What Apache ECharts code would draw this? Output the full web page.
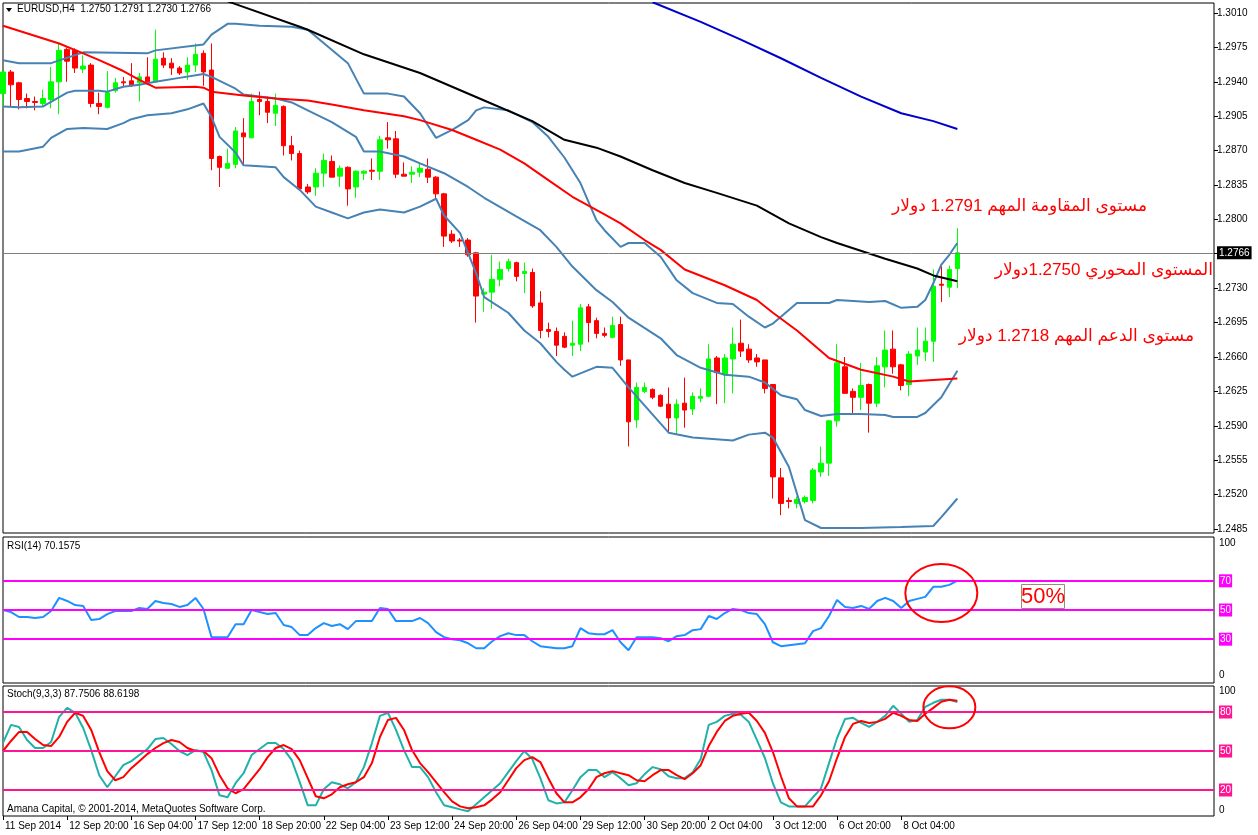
<!DOCTYPE html>
<html><head><meta charset="utf-8">
<script src="https://cdn.jsdelivr.net/npm/echarts@6/dist/echarts.min.js"></script>
<style>html,body{margin:0;padding:0;background:#fff}#c{width:1258px;height:835px}</style>
</head><body><div id="c"></div>
<script>
const xTickLabels = ["11 Sep 2014","12 Sep 20:00","16 Sep 04:00","17 Sep 12:00","18 Sep 20:00","22 Sep 04:00","23 Sep 12:00","24 Sep 20:00","26 Sep 04:00","29 Sep 12:00","30 Sep 20:00","2 Oct 04:00","3 Oct 12:00","6 Oct 20:00","8 Oct 04:00"];
const priceTicks = [1.3010,1.2975,1.2940,1.2905,1.2870,1.2835,1.2800,1.2730,1.2695,1.2660,1.2625,1.2590,1.2555,1.2520,1.2485];
const lastPrice = 1.2766;
// [open, close, low, high]
const candles = [
[1.2928,1.2950,1.2915,1.2951],[1.2950,1.2937,1.2915,1.2952],[1.2939,1.2922,1.2912,1.2940],[1.2923,1.2920,1.2913,1.2928],
[1.2920,1.2919,1.2911,1.2925],[1.2918,1.2923,1.2915,1.2932],[1.2922,1.2940,1.2913,1.2955],[1.2940,1.2972,1.2907,1.2979],
[1.2973,1.2961,1.2940,1.2975],[1.2972,1.2954,1.2949,1.2974],[1.2953,1.2956,1.2949,1.2967],[1.2957,1.2918,1.2914,1.2959],
[1.2918,1.2915,1.2907,1.2929],[1.2914,1.2929,1.2913,1.2951],[1.2931,1.2939,1.2929,1.2944],[1.2940,1.2939,1.2935,1.2945],
[1.2941,1.2937,1.2935,1.2959],[1.2939,1.2945,1.2920,1.2949],[1.2945,1.2940,1.2937,1.2965],[1.2940,1.2963,1.2939,1.2993],
[1.2964,1.2957,1.2954,1.2970],[1.2959,1.2954,1.2947,1.2964],[1.2954,1.2949,1.2947,1.2956],[1.2950,1.2957,1.2942,1.2965],
[1.2957,1.2968,1.2950,1.2979],[1.2969,1.2950,1.2936,1.2972],[1.2952,1.2862,1.2850,1.2979],[1.2864,1.2853,1.2833,1.2865],
[1.2852,1.2857,1.2852,1.2872],[1.2856,1.2890,1.2852,1.2894],[1.2888,1.2884,1.2856,1.2903],[1.2883,1.2920,1.2883,1.2928],
[1.2922,1.2920,1.2906,1.2930],[1.2920,1.2909,1.2898,1.2925],[1.2908,1.2916,1.2895,1.2928],[1.2915,1.2875,1.2865,1.2916],
[1.2875,1.2867,1.2860,1.2885],[1.2867,1.2831,1.2829,1.2870],[1.2833,1.2828,1.2826,1.2836],[1.2833,1.2847,1.2824,1.2852],
[1.2847,1.2860,1.2833,1.2867],[1.2859,1.2843,1.2843,1.2865],[1.2844,1.2852,1.2833,1.2855],[1.2853,1.2831,1.2814,1.2854],
[1.2833,1.2849,1.2822,1.2850],[1.2847,1.2849,1.2840,1.2850],[1.2850,1.2849,1.2840,1.2862],[1.2849,1.2881,1.2840,1.2885],
[1.2883,1.2881,1.2872,1.2899],[1.2882,1.2846,1.2842,1.2890],[1.2846,1.2844,1.2844,1.2858],[1.2846,1.2848,1.2837,1.2854],
[1.2848,1.2852,1.2843,1.2858],[1.2851,1.2843,1.2837,1.2862],[1.2843,1.2826,1.2821,1.2844],[1.2826,1.2783,1.2772,1.2827],
[1.2785,1.2778,1.2776,1.2789],[1.2779,1.2778,1.2772,1.2781],[1.2779,1.2764,1.2762,1.2781],[1.2766,1.2722,1.2695,1.2767],
[1.2724,1.2726,1.2706,1.2730],[1.2726,1.2739,1.2709,1.2764],[1.2739,1.2749,1.2732,1.2757],[1.2750,1.2757,1.2747,1.2760],
[1.2756,1.2742,1.2737,1.2757],[1.2745,1.2747,1.2725,1.2756],[1.2746,1.2712,1.2710,1.2750],[1.2715,1.2687,1.2679,1.2727],
[1.2688,1.2686,1.2680,1.2695],[1.2686,1.2672,1.2661,1.2690],[1.2681,1.2670,1.2669,1.2685],[1.2672,1.2674,1.2661,1.2697],
[1.2673,1.2710,1.2666,1.2714],[1.2711,1.2695,1.2675,1.2714],[1.2697,1.2684,1.2679,1.2700],[1.2684,1.2682,1.2680,1.2690],
[1.2680,1.2692,1.2679,1.2701],[1.2693,1.2657,1.2651,1.2701],[1.2657,1.2594,1.2569,1.2657],[1.2596,1.2629,1.2588,1.2634],
[1.2625,1.2629,1.2623,1.2634],[1.2627,1.2619,1.2617,1.2628],[1.2621,1.2610,1.2609,1.2622],[1.2612,1.2598,1.2583,1.2629],
[1.2598,1.2612,1.2581,1.2617],[1.2613,1.2606,1.2588,1.2639],[1.2607,1.2620,1.2601,1.2624],[1.2618,1.2620,1.2614,1.2628],
[1.2620,1.2658,1.2619,1.2673],[1.2659,1.2644,1.2612,1.2661],[1.2642,1.2659,1.2613,1.2663],[1.2658,1.2673,1.2623,1.2690],
[1.2674,1.2666,1.2660,1.2698],[1.2668,1.2657,1.2654,1.2673],[1.2659,1.2655,1.2650,1.2663],[1.2657,1.2628,1.2623,1.2657],
[1.2632,1.2538,1.2516,1.2632],[1.2537,1.2511,1.2499,1.2547],[1.2514,1.2513,1.2506,1.2517],[1.2511,1.2515,1.2506,1.2518],
[1.2513,1.2517,1.2511,1.2519],[1.2514,1.2545,1.2511,1.2547],[1.2543,1.2552,1.2538,1.2569],[1.2552,1.2595,1.2539,1.2596],
[1.2595,1.2654,1.2589,1.2673],[1.2650,1.2623,1.2623,1.2660],[1.2625,1.2619,1.2603,1.2628],[1.2619,1.2631,1.2606,1.2654],
[1.2632,1.2613,1.2583,1.2633],[1.2613,1.2651,1.2609,1.2660],[1.2650,1.2667,1.2629,1.2687],[1.2668,1.2650,1.2643,1.2687],
[1.2652,1.2631,1.2626,1.2653],[1.2632,1.2663,1.2620,1.2666],[1.2661,1.2667,1.2652,1.2690],[1.2665,1.2676,1.2656,1.2690],
[1.2676,1.2732,1.2655,1.2749],[1.2734,1.2733,1.2716,1.2752],[1.2731,1.2749,1.2721,1.2753],[1.2750,1.2766,1.2730,1.2791]
];
// [bar index, value]
const bbUpper = [[0,1.2962],[2,1.2959],[6,1.2959],[10,1.2970],[18,1.2969],[19,1.2972],[25,1.2978],[26,1.2988],[28,1.2999],[29,1.2999],[32,1.2997],[36,1.2996],[38,1.2993],[43,1.2959],[45,1.2928],[48,1.2928],[50,1.2925],[52,1.2908],[54,1.2883],[56,1.2891],[58,1.2901],[59,1.2911],[60,1.2914],[63,1.2911],[66,1.2899],[68,1.2884],[70,1.2863],[72,1.2837],[74,1.2799],[75,1.2789],[77,1.2772],[78,1.2776],[80,1.2776],[82,1.2762],[84,1.2738],[86,1.2725],[89,1.2715],[91,1.2714],[93,1.2701],[95,1.2690],[96,1.2694],[97,1.2701],[99,1.2715],[103,1.2715],[104,1.2718],[108,1.2716],[110,1.2717],[112,1.2710],[114,1.2711],[115,1.2718],[116,1.2735],[117,1.2754],[118,1.2764],[119,1.2776]];
const bbMiddle = [[0,1.2915],[2,1.2914],[5,1.2915],[8,1.2929],[9,1.2931],[12,1.2931],[13,1.2930],[15,1.2935],[17,1.2937],[19,1.2940],[22,1.2944],[25,1.2948],[26,1.2945],[29,1.2933],[30,1.2927],[32,1.2925],[34,1.2923],[36,1.2919],[38,1.2911],[41,1.2899],[44,1.2884],[45,1.2869],[47,1.2869],[50,1.2864],[52,1.2857],[55,1.2847],[58,1.2833],[60,1.2822],[64,1.2803],[67,1.2789],[69,1.2772],[71,1.2752],[74,1.2728],[76,1.2716],[78,1.2700],[82,1.2679],[84,1.2662],[87,1.2649],[90,1.2642],[93,1.2640],[95,1.2634],[97,1.2621],[99,1.2617],[100,1.2606],[102,1.2600],[104,1.2602],[107,1.2602],[110,1.2601],[111,1.2599],[114,1.2599],[115,1.2603],[117,1.2619],[119,1.2646]];
const bbLower = [[0,1.2869],[2,1.2869],[5,1.2874],[6,1.2883],[8,1.2892],[10,1.2893],[13,1.2892],[15,1.2898],[16,1.2902],[18,1.2906],[21,1.2908],[23,1.2912],[25,1.2918],[26,1.2904],[27,1.2884],[29,1.2868],[30,1.2855],[34,1.2853],[35,1.2843],[37,1.2830],[39,1.2813],[41,1.2807],[43,1.2801],[45,1.2807],[47,1.2810],[50,1.2807],[52,1.2813],[54,1.2821],[55,1.2804],[57,1.2786],[59,1.2745],[60,1.2721],[63,1.2705],[65,1.2687],[67,1.2674],[69,1.2655],[70,1.2647],[71,1.2640],[74,1.2650],[76,1.2649],[78,1.2629],[83,1.2583],[86,1.2578],[91,1.2575],[93,1.2581],[95,1.2583],[96,1.2578],[98,1.2548],[100,1.2494],[102,1.2486],[107,1.2486],[112,1.2487],[116,1.2488],[117,1.2497],[119,1.2516]];
const maRed = [[0,1.2997],[7,1.2979],[10,1.2969],[12,1.2962],[15,1.2951],[17,1.2942],[19,1.2934],[24,1.2935],[25,1.2934],[26,1.2930],[30,1.2926],[34,1.2923],[38,1.2921],[41,1.2917],[45,1.2911],[50,1.2905],[52,1.2901],[56,1.2891],[59,1.2881],[62,1.2871],[65,1.2857],[68,1.2840],[71,1.2823],[75,1.2805],[77,1.2796],[80,1.2779],[82,1.2769],[85,1.2749],[90,1.2733],[94,1.2718],[96,1.2705],[99,1.2687],[103,1.2659],[107,1.2647],[111,1.2640],[113,1.2635],[117,1.2637],[119,1.2638]];
const maBlack = [[27,1.3025],[29,1.3019],[37,1.2996],[38,1.2993],[45,1.2968],[52,1.2949],[60,1.2921],[66,1.2900],[70,1.2881],[74,1.2873],[77,1.2864],[81,1.2850],[85,1.2837],[89,1.2827],[94,1.2814],[98,1.2796],[102,1.2782],[104,1.2776],[110,1.2760],[114,1.2750],[116,1.2743],[119,1.2737]];
const maBlue = [[81,1.3021],[87,1.3001],[92,1.2983],[97,1.2964],[102,1.2944],[107,1.2925],[112,1.2908],[116,1.2900],[119,1.2892]];
const rsi = [50.0,48.6,45.2,45.2,44.5,45.2,49.3,58.3,56.2,53.4,52.8,43.1,43.8,47.2,49.3,49.3,49.3,51.4,50.7,56.2,
54.8,54.1,52.1,53.4,58.3,50.7,31.4,31.4,31.4,40.3,40.3,50.0,48.6,47.2,47.9,39.7,38.3,32.8,32.8,37.6,
41.0,39.0,40.3,36.9,42.4,42.4,42.4,51.4,50.7,42.4,42.4,42.4,44.5,41.0,34.8,31.4,30.0,29.3,27.2,23.8,
23.8,28.6,32.1,34.1,32.8,32.8,28.6,25.2,24.5,23.8,23.8,25.2,37.6,34.1,33.4,33.4,36.2,27.9,22.4,31.4,
31.4,31.4,30.7,28.6,32.1,32.8,36.2,36.9,45.9,43.8,47.9,50.7,50.0,47.9,47.2,40.3,27.9,25.2,25.9,26.6,
27.2,35.5,37.6,45.9,56.9,52.1,51.4,52.8,50.7,56.2,58.3,56.2,51.4,56.2,57.6,59.0,65.9,65.9,67.2,70.2];
const stochK = [56.3,70.1,68.5,58.5,52.3,52.3,56.9,76.3,83.2,79.4,67.7,50.7,31.4,22.1,30.6,39.1,42.2,46.9,51.5,59.2,
60.0,55.4,50.0,46.9,50.7,49.2,35.3,15.9,14.4,25.2,32.9,46.9,51.5,56.1,56.1,51.5,43.0,26.0,8.2,8.2,
20.6,26.0,24.4,21.3,26.0,37.6,56.1,77.0,79.4,66.2,50.7,37.6,37.6,29.9,18.3,8.2,6.7,5.1,3.6,9.0,
14.4,19.8,25.2,33.7,42.2,50.0,43.8,29.1,12.1,9.7,10.5,19.8,29.9,35.3,35.3,29.9,33.7,29.1,23.7,25.2,
32.2,37.6,36.0,30.6,29.1,29.1,33.7,43.8,70.1,72.4,77.0,78.6,77.8,72.4,58.5,44.6,25.2,10.5,7.4,7.4,
7.4,14.4,21.3,40.7,60.0,74.7,75.5,71.6,68.5,72.4,77.0,84.8,78.6,72.4,73.9,84.0,87.1,89.4,89.4,87.75];
const stochD = [50.0,57.7,64.7,64.7,59.2,54.6,53.8,60.8,72.4,79.4,77.0,66.2,49.2,34.5,27.5,29.9,36.8,42.2,47.6,52.3,
56.1,58.5,56.9,52.3,50.0,50.0,44.5,31.4,21.3,17.5,20.6,28.3,36.0,45.3,52.3,54.6,51.5,43.0,29.1,15.2,
13.6,16.7,22.1,24.4,26.0,29.9,40.7,60.8,73.9,75.5,66.2,50.7,40.7,33.7,26.0,18.3,11.3,7.4,5.9,6.7,
8.2,12.8,18.3,27.5,36.8,43.0,45.3,41.5,29.1,17.5,10.5,10.5,14.4,20.6,29.9,32.9,34.5,32.9,31.4,27.5,
26.7,31.4,35.3,35.3,31.4,28.3,32.9,39.1,53.8,64.7,73.1,77.0,78.6,79.4,73.1,63.9,49.2,30.6,13.6,7.4,
7.4,7.4,15.9,26.7,44.6,60.8,70.9,73.1,71.6,72.4,74.7,79.4,77.0,73.9,73.1,78.6,83.2,87.9,89.4,88.62];
const rsiLevels = [70, 50, 30];
const stochLevels = [80, 50, 20];
const rsiLabels = [0, 30, 50, 70, 100];
const stochLabels = [0, 20, 50, 80, 100];
const notes = [
  {text: "مستوى المقاومة المهم 1.2791 دولار", right: 1147, y: 206},
  {text: "المستوى المحوري 1.2750دولار", right: 1213, y: 270},
  {text: "مستوى الدعم المهم 1.2718 دولار", right: 1194, y: 336}
];
const rsiCircle = {bar: 117.2, value: 61.7, rx: 36, ry: 29};
const stochCircle = {bar: 117.8, value: 83.6, rx: 26, ry: 21};

const F = "'Liberation Sans', Arial, 'DejaVu Sans', sans-serif";
const visibleSlots = 152;
const tickEvery = 8;
const slotNames = Array.from({length: visibleSlots}, (_, i) => String(i));
const showTick = (idx) => idx % tickEvery === 0 && idx / tickEvery < xTickLabels.length;

const chart = echarts.init(document.getElementById('c'), null, {width: 1258, height: 835});

const gridBase = {show: true, borderColor: '#000', borderWidth: 1, backgroundColor: '#fff'};
const grids = [
  Object.assign({left: 3, top: 3, width: 1211, height: 530}, gridBase),
  Object.assign({left: 3, top: 537, width: 1211, height: 146}, gridBase),
  Object.assign({left: 3, top: 686, width: 1211, height: 130}, gridBase)
];

const xAxes = [0, 1, 2].map(g => ({
  gridIndex: g, type: 'category', data: slotNames, boundaryGap: false,
  axisLine: {show: false}, splitLine: {show: false},
  axisTick: {show: g === 2, interval: (i) => showTick(i), length: 4, lineStyle: {color: '#000'}},
  axisLabel: {show: g === 2, interval: (i) => showTick(i), align: 'left', margin: 5, padding: [0, 0, 0, 2],
    formatter: (v, idx) => xTickLabels[idx / tickEvery] || '', color: '#000', fontSize: 10, fontFamily: F}
}));

const mainTicks = priceTicks.concat([lastPrice]);
const levelAxis = (g, labels, bg, topPad, botPad) => ({
  gridIndex: g, type: 'value', position: 'right', min: 0, max: 100,
  splitLine: {show: false}, axisLine: {show: false}, axisTick: {show: false},
  axisLabel: {customValues: labels, margin: 5, color: '#000', fontSize: 10, fontFamily: F,
    formatter: v => v === 100 ? '{t|100}' : (v === 0 ? '{b|0}' : '{l|' + v + '}'),
    rich: {
      t: {padding: [topPad, 0, 0, 0], fontSize: 10, fontFamily: F, color: '#000'},
      b: {padding: [0, 0, botPad, 0], fontSize: 10, fontFamily: F, color: '#000'},
      l: {backgroundColor: bg, color: '#fff', padding: [2, 1, 1, 1], fontSize: 10, fontFamily: F}
    }}
});

const yAxes = [
  {gridIndex: 0, type: 'value', position: 'right', min: 1.24809, max: 1.30202,
   splitLine: {show: false}, axisLine: {show: false},
   axisTick: {show: true, length: 4, lineStyle: {color: '#000'}, customValues: mainTicks},
   axisLabel: {customValues: mainTicks, margin: 3, color: '#000', fontSize: 10, fontFamily: F,
     formatter: v => Math.abs(v - lastPrice) < 1e-7 ? '{c|' + v.toFixed(4) + '}' : v.toFixed(4),
     rich: {c: {backgroundColor: '#000', color: '#fff', padding: [2, 2, 1, 2], fontSize: 10, fontFamily: F}}}},
  levelAxis(1, rsiLabels, '#FF00FF', 13, 15),
  levelAxis(2, stochLabels, '#FF1493', 11, 11)
];

const line = (data, color, ax) => ({type: 'line', xAxisIndex: ax, yAxisIndex: ax, data, showSymbol: false, symbol: 'none',
  lineStyle: {color, width: 2}, z: 3, silent: true, clip: true});
const levels = (ax, vals, color, width) => ({type: 'line', xAxisIndex: ax, yAxisIndex: ax, data: [], z: 1, silent: true,
  markLine: {silent: true, symbol: 'none', animation: false, precision: 6, label: {show: false},
    lineStyle: {color, width, type: 'solid'}, data: vals.map(v => ({yAxis: v}))}});

const option = {
  animation: false,
  backgroundColor: '#fff',
  grid: grids, xAxis: xAxes, yAxis: yAxes,
  series: [
    levels(0, [lastPrice], '#808080', 1),
    {type: 'candlestick', xAxisIndex: 0, yAxisIndex: 0, data: candles, barWidth: 5, z: 2, silent: true,
     itemStyle: {color: '#00FF00', color0: '#FF0000', borderColor: '#00FF00', borderColor0: '#FF0000', borderWidth: 1}},
    line(bbUpper, '#4682B4', 0), line(bbMiddle, '#4682B4', 0), line(bbLower, '#4682B4', 0),
    line(maRed, '#FF0000', 0), line(maBlack, '#000000', 0), line(maBlue, '#0000CD', 0),
    levels(1, rsiLevels, '#FF00FF', 2),
    line(rsi, '#1E90FF', 1),
    levels(2, stochLevels, '#FF1493', 2),
    line(stochK, '#20B2AA', 2), line(stochD, '#FF0000', 2)
  ]
};
chart.setOption(option);

const c1 = chart.convertToPixel({xAxisIndex: 1, yAxisIndex: 1}, [rsiCircle.bar, rsiCircle.value]);
const c2 = chart.convertToPixel({xAxisIndex: 2, yAxisIndex: 2}, [stochCircle.bar, stochCircle.value]);
const small = '10px ' + F;
const g = [
  {type: 'polygon', shape: {points: [[6, 8], [12, 8], [9, 12]]}, style: {fill: '#000'}, z: 10},
  {type: 'text', x: 17, y: 4, style: {text: 'EURUSD,H4  1.2750 1.2791 1.2730 1.2766', font: small, fill: '#000'}, z: 10},
  {type: 'text', x: 7, y: 541, style: {text: 'RSI(14) 70.1575', font: small, fill: '#000'}, z: 10},
  {type: 'text', x: 7, y: 689, style: {text: 'Stoch(9,3,3) 87.7506 88.6198', font: small, fill: '#000'}, z: 10},
  {type: 'text', x: 7, y: 804, style: {text: 'Amana Capital, © 2001-2014, MetaQuotes Software Corp.', font: small, fill: '#000'}, z: 10},
  {type: 'ellipse', shape: {cx: c1[0], cy: c1[1], rx: rsiCircle.rx, ry: rsiCircle.ry}, style: {fill: 'none', stroke: '#FF0000', lineWidth: 2}, z: 10},
  {type: 'ellipse', shape: {cx: c2[0], cy: c2[1], rx: stochCircle.rx, ry: stochCircle.ry}, style: {fill: 'none', stroke: '#FF0000', lineWidth: 2}, z: 10},
  {type: 'rect', shape: {x: 1021.5, y: 584.5, width: 43, height: 24}, style: {fill: '#fff', stroke: '#9C8A78', lineWidth: 1}, z: 10},
  {type: 'text', x: 1043, y: 597, style: {text: '50%', font: '22px ' + F, fill: '#FF0000', align: 'center', verticalAlign: 'middle'}, z: 11}
];
notes.forEach(n => g.push({type: 'text', x: n.right, y: n.y, z: 10,
  style: {text: '\u202B' + n.text + '\u202C', font: '17px ' + F, fill: '#FF0000', align: 'right', verticalAlign: 'middle'}}));
chart.setOption({graphic: {elements: g}});
</script></body></html>
